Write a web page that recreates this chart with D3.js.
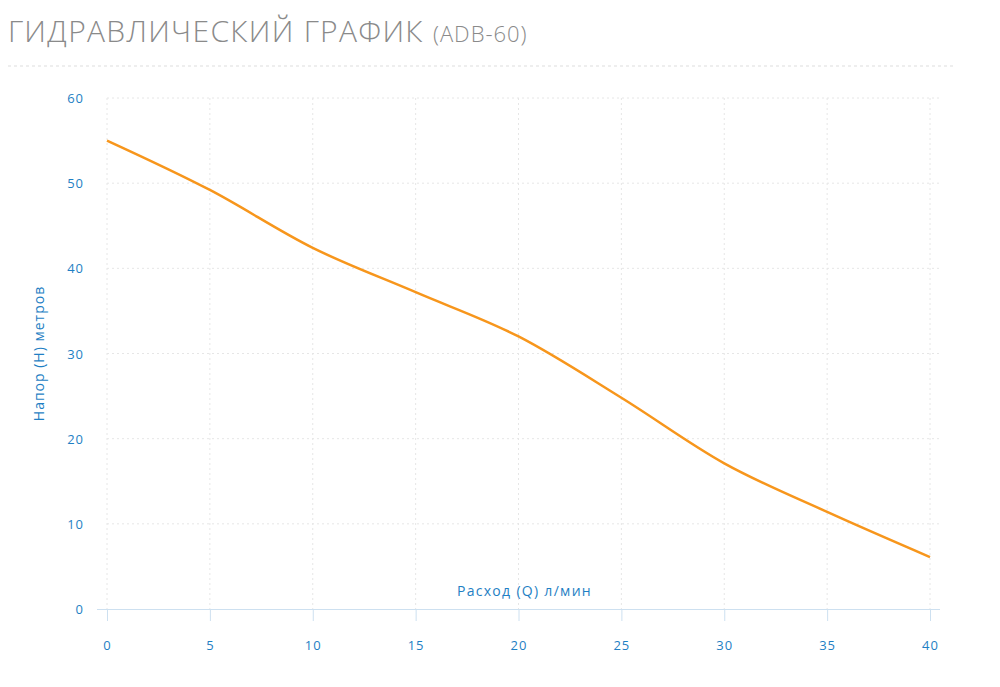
<!DOCTYPE html>
<html><head><meta charset="utf-8">
<script src="https://cdn.jsdelivr.net/npm/d3@7"></script>
<style>
body{margin:0;background:#fff;font-family:"Open Sans",sans-serif}
</style></head><body>
<svg id="chart" width="1000" height="687"></svg>
<script>
const flow = [0, 5, 10, 15, 20, 25, 30, 35, 40]
const head = [55, 49.2, 42.4, 37.2, 32, 24.8, 17.1, 11.4, 6.1]
const xTicks = [0, 5, 10, 15, 20, 25, 30, 35, 40]
const yTicks = [0, 10, 20, 30, 40, 50, 60]

const svg = d3.select('#chart')
const blue = '#1f7fc4'

// title
const title = svg.append('text').attr('x', 8).attr('y', 42)
    .style('fill', '#8a8a8a').style('font-size', '30px').style('font-weight', 300)
    .style('letter-spacing', '1.3px')
title.append('tspan').text('ГИДРАВЛИЧЕСКИЙ ГРАФИК ')
title.append('tspan').text('(ADB-60)').style('font-size', '22px').style('letter-spacing', '1px')
svg.append('line').attr('x1', 8).attr('x2', 955).attr('y1', 66).attr('y2', 66)
    .attr('stroke', '#ddd').attr('stroke-dasharray', '3,3')

const x = d3.scaleLinear().domain([0, 40]).range([107, 930])
const y = d3.scaleLinear().domain([0, 60]).range([609, 98])

// grid
svg.append('g').selectAll('line').data(yTicks.filter(d => d > 0)).join('line')
    .attr('x1', x(0)).attr('x2', 940).attr('y1', d => y(d)).attr('y2', d => y(d))
    .attr('stroke', '#e6e6e6').attr('stroke-dasharray', '2,3')
svg.append('g').selectAll('line').data(xTicks).join('line')
    .attr('x1', d => x(d)).attr('x2', d => x(d)).attr('y1', y(60)).attr('y2', y(0))
    .attr('stroke', '#e6e6e6').attr('stroke-dasharray', '2,3')

// x axis
const xAxis = svg.append('g').attr('transform', `translate(0,${y(0)})`)
    .call(d3.axisBottom(x).tickValues(xTicks).tickSize(12).tickPadding(20))
xAxis.select('.domain').attr('stroke', '#cde0f0').attr('d', `M${x(0) - 10},0.5H940`)
xAxis.selectAll('line').attr('stroke', '#cde0f0')
xAxis.selectAll('text').style('fill', blue).style('font-size', '13px')
    .style('font-family', 'Open Sans').style('letter-spacing', '1px')

// y axis labels
svg.append('g').selectAll('text').data(yTicks).join('text')
    .attr('x', 84).attr('y', d => y(d) + 5).attr('text-anchor', 'end')
    .style('fill', blue).style('font-size', '13px').style('letter-spacing', '1px').text(d => d)

svg.append('text').attr('x', x(20) + 6).attr('y', 596).attr('text-anchor', 'middle')
    .style('fill', blue).style('font-size', '14px').style('letter-spacing', '1.3px')
    .text('Расход (Q) л/мин')
svg.append('text').attr('transform', `translate(44,${y(30)}) rotate(-90)`)
    .attr('text-anchor', 'middle').style('fill', blue).style('font-size', '14px')
    .style('letter-spacing', '1px').text('Напор (H) метров')

// curve
const line = d3.line().x((d, i) => x(flow[i])).y(d => y(d)).curve(d3.curveMonotoneX)
svg.append('path').datum(head).attr('d', line)
    .attr('fill', 'none').attr('stroke', '#f7961c').attr('stroke-width', 2.5)
</script>
</body></html>
